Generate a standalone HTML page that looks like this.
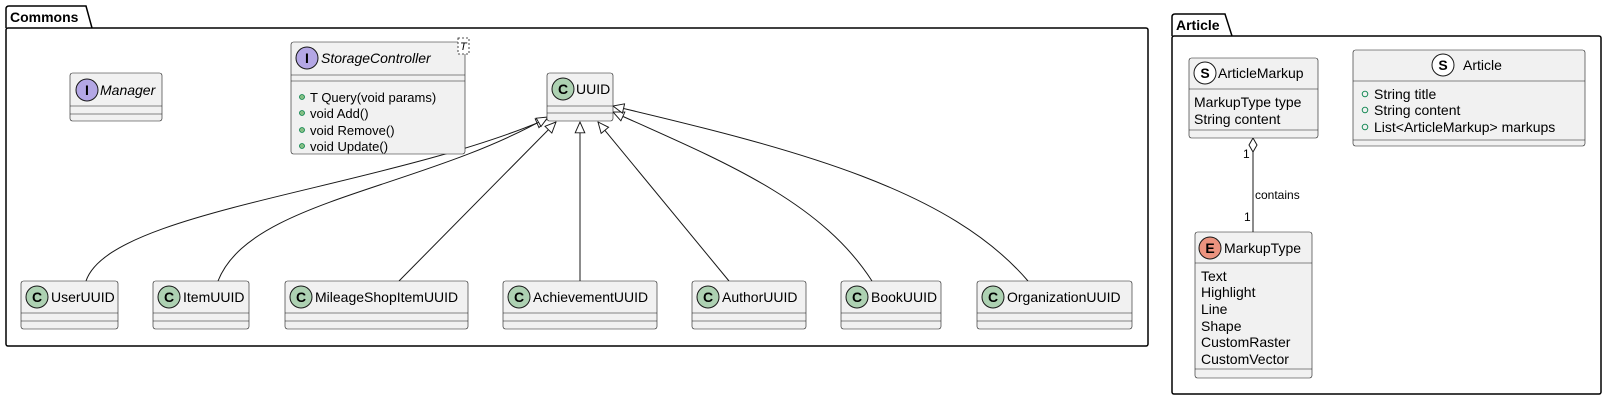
<!DOCTYPE html>
<html><head><meta charset="utf-8"><style>
html,body{margin:0;padding:0;background:#fff;}
svg{display:block;}
text{font-family:"Liberation Sans","DejaVu Sans",sans-serif;fill:#000;}
</style></head><body>
<svg width="1606" height="400" viewBox="0 0 1606 400" xmlns="http://www.w3.org/2000/svg">
<defs>
<marker id="tri" viewBox="0 0 20 20" refX="19" refY="10" markerWidth="12" markerHeight="12" markerUnits="userSpaceOnUse" orient="auto">
<path d="M1,2 L19,10 L1,18 Z" fill="#fff" stroke="#181818" stroke-width="1.6"/>
</marker>
</defs>
<!-- Commons package -->
<path d="M6,28 L6,9 Q6,6 9,6 L86,6 L92,28" fill="none" stroke="#000" stroke-width="1.5"/>
<rect x="6" y="28" width="1142" height="318" rx="2" fill="none" stroke="#000" stroke-width="1.5"/>
<text x="10" y="22" font-size="14" font-weight="bold">Commons</text>
<!-- Article package -->
<path d="M1172,36 L1172,17 Q1172,14 1175,14 L1225,14 L1232,36" fill="none" stroke="#000" stroke-width="1.5"/>
<rect x="1172" y="36" width="429" height="358" rx="2" fill="none" stroke="#000" stroke-width="1.5"/>
<text x="1176" y="30" font-size="14" font-weight="bold">Article</text>

<g stroke="#181818" stroke-width="1" fill="none">
<path d="M86,281 C110,210 380,190 547,119" marker-end="url(#tri)"/>
<path d="M218,281 C250,200 420,190 548,117" marker-end="url(#tri)"/>
<path d="M399,281 L556,122" marker-end="url(#tri)"/>
<path d="M580,281 L580,122" marker-end="url(#tri)"/>
<path d="M729,281 L598,122" marker-end="url(#tri)"/>
<path d="M872,281 C820,200 720,160 613,112" marker-end="url(#tri)"/>
<path d="M1028,281 C950,190 800,150 613,106" marker-end="url(#tri)"/>
<path d="M1253,152 L1253,232"/>
</g>
<path d="M1253,138 L1257,145 L1253,152 L1249,145 Z" fill="#fff" stroke="#181818"/>
<text x="1243" y="158" font-size="12">1</text>
<text x="1255" y="199" font-size="12">contains</text>
<text x="1244" y="221" font-size="12">1</text>

<g font-size="14">
<!-- Manager -->
<rect x="70" y="73" width="92" height="48" rx="2.5" fill="#f1f1f1" stroke="#181818" stroke-width="0.6"/>
<line x1="70" y1="106" x2="162" y2="106" stroke="#181818" stroke-width="0.6"/>
<line x1="70" y1="114" x2="162" y2="114" stroke="#181818" stroke-width="0.6"/>
<circle cx="87" cy="90" r="11" fill="#B4A7E5" stroke="#181818"/>
<text x="87" y="95" font-size="14" font-weight="bold" text-anchor="middle">I</text>
<text x="100" y="95" font-style="italic">Manager</text>

<!-- StorageController -->
<rect x="291" y="42" width="174" height="112" rx="2.5" fill="#f1f1f1" stroke="#181818" stroke-width="0.6"/>
<line x1="291" y1="75" x2="465" y2="75" stroke="#181818" stroke-width="0.6"/>
<line x1="291" y1="81" x2="465" y2="81" stroke="#181818" stroke-width="0.6"/>
<circle cx="307" cy="58" r="11" fill="#B4A7E5" stroke="#181818"/>
<text x="307" y="63" font-weight="bold" text-anchor="middle">I</text>
<text x="321" y="63" font-style="italic">StorageController</text>
<rect x="458" y="38" width="11" height="16" fill="#fff" stroke="#181818" stroke-width="0.8" stroke-dasharray="2,2"/>
<text x="460" y="50" font-size="11" font-style="italic">T</text>
<g font-size="13">
<circle cx="302" cy="97" r="2.5" fill="#84BE84" stroke="#038048" stroke-width="0.8"/><text x="310" y="102">T Query(void params)</text>
<circle cx="302" cy="113" r="2.5" fill="#84BE84" stroke="#038048" stroke-width="0.8"/><text x="310" y="118">void Add()</text>
<circle cx="302" cy="130" r="2.5" fill="#84BE84" stroke="#038048" stroke-width="0.8"/><text x="310" y="135">void Remove()</text>
<circle cx="302" cy="146" r="2.5" fill="#84BE84" stroke="#038048" stroke-width="0.8"/><text x="310" y="151">void Update()</text>
</g>

<!-- UUID and children -->
<g id="cls">
<rect x="547" y="73" width="66" height="48" rx="2.5" fill="#f1f1f1" stroke="#181818" stroke-width="0.6"/>
<line x1="547" y1="106" x2="613" y2="106" stroke="#181818" stroke-width="0.6"/>
<line x1="547" y1="113" x2="613" y2="113" stroke="#181818" stroke-width="0.6"/>
<circle cx="563" cy="89" r="11" fill="#ADD1B2" stroke="#181818"/>
<text x="563" y="94" font-weight="bold" text-anchor="middle">C</text>
<text x="576" y="94">UUID</text>
</g>
</g>

<g font-size="14">
<!-- children: x, w, name -->
<g>
<rect x="21" y="281" width="97" height="48" rx="2.5" fill="#f1f1f1" stroke="#181818" stroke-width="0.6"/>
<line x1="21" y1="313" x2="118" y2="313" stroke="#181818" stroke-width="0.6"/><line x1="21" y1="321" x2="118" y2="321" stroke="#181818" stroke-width="0.6"/>
<circle cx="37" cy="297" r="11" fill="#ADD1B2" stroke="#181818"/><text x="37" y="302" font-weight="bold" text-anchor="middle">C</text>
<text x="51" y="302">UserUUID</text>
</g>
<g>
<rect x="153" y="281" width="96" height="48" rx="2.5" fill="#f1f1f1" stroke="#181818" stroke-width="0.6"/>
<line x1="153" y1="313" x2="249" y2="313" stroke="#181818" stroke-width="0.6"/><line x1="153" y1="321" x2="249" y2="321" stroke="#181818" stroke-width="0.6"/>
<circle cx="169" cy="297" r="11" fill="#ADD1B2" stroke="#181818"/><text x="169" y="302" font-weight="bold" text-anchor="middle">C</text>
<text x="183" y="302">ItemUUID</text>
</g>
<g>
<rect x="285" y="281" width="183" height="48" rx="2.5" fill="#f1f1f1" stroke="#181818" stroke-width="0.6"/>
<line x1="285" y1="313" x2="468" y2="313" stroke="#181818" stroke-width="0.6"/><line x1="285" y1="321" x2="468" y2="321" stroke="#181818" stroke-width="0.6"/>
<circle cx="301" cy="297" r="11" fill="#ADD1B2" stroke="#181818"/><text x="301" y="302" font-weight="bold" text-anchor="middle">C</text>
<text x="315" y="302">MileageShopItemUUID</text>
</g>
<g>
<rect x="503" y="281" width="154" height="48" rx="2.5" fill="#f1f1f1" stroke="#181818" stroke-width="0.6"/>
<line x1="503" y1="313" x2="657" y2="313" stroke="#181818" stroke-width="0.6"/><line x1="503" y1="321" x2="657" y2="321" stroke="#181818" stroke-width="0.6"/>
<circle cx="519" cy="297" r="11" fill="#ADD1B2" stroke="#181818"/><text x="519" y="302" font-weight="bold" text-anchor="middle">C</text>
<text x="533" y="302">AchievementUUID</text>
</g>
<g>
<rect x="692" y="281" width="114" height="48" rx="2.5" fill="#f1f1f1" stroke="#181818" stroke-width="0.6"/>
<line x1="692" y1="313" x2="806" y2="313" stroke="#181818" stroke-width="0.6"/><line x1="692" y1="321" x2="806" y2="321" stroke="#181818" stroke-width="0.6"/>
<circle cx="708" cy="297" r="11" fill="#ADD1B2" stroke="#181818"/><text x="708" y="302" font-weight="bold" text-anchor="middle">C</text>
<text x="722" y="302">AuthorUUID</text>
</g>
<g>
<rect x="841" y="281" width="100" height="48" rx="2.5" fill="#f1f1f1" stroke="#181818" stroke-width="0.6"/>
<line x1="841" y1="313" x2="941" y2="313" stroke="#181818" stroke-width="0.6"/><line x1="841" y1="321" x2="941" y2="321" stroke="#181818" stroke-width="0.6"/>
<circle cx="857" cy="297" r="11" fill="#ADD1B2" stroke="#181818"/><text x="857" y="302" font-weight="bold" text-anchor="middle">C</text>
<text x="871" y="302">BookUUID</text>
</g>
<g>
<rect x="977" y="281" width="155" height="48" rx="2.5" fill="#f1f1f1" stroke="#181818" stroke-width="0.6"/>
<line x1="977" y1="313" x2="1132" y2="313" stroke="#181818" stroke-width="0.6"/><line x1="977" y1="321" x2="1132" y2="321" stroke="#181818" stroke-width="0.6"/>
<circle cx="993" cy="297" r="11" fill="#ADD1B2" stroke="#181818"/><text x="993" y="302" font-weight="bold" text-anchor="middle">C</text>
<text x="1007" y="302">OrganizationUUID</text>
</g>

<!-- ArticleMarkup -->
<rect x="1189" y="58" width="129" height="80" rx="2.5" fill="#f1f1f1" stroke="#181818" stroke-width="0.6"/>
<line x1="1189" y1="89" x2="1318" y2="89" stroke="#181818" stroke-width="0.6"/>
<line x1="1189" y1="130" x2="1318" y2="130" stroke="#181818" stroke-width="0.6"/>
<circle cx="1205" cy="73" r="11" fill="#fff" stroke="#181818"/><text x="1205" y="78" font-weight="bold" text-anchor="middle">S</text>
<text x="1218" y="78">ArticleMarkup</text>
<text x="1194" y="107">MarkupType type</text>
<text x="1194" y="124">String content</text>

<!-- Article -->
<rect x="1353" y="50" width="232" height="96" rx="2.5" fill="#f1f1f1" stroke="#181818" stroke-width="0.6"/>
<line x1="1353" y1="81" x2="1585" y2="81" stroke="#181818" stroke-width="0.6"/>
<line x1="1353" y1="140" x2="1585" y2="140" stroke="#181818" stroke-width="0.6"/>
<circle cx="1443" cy="65" r="11" fill="#fff" stroke="#181818"/><text x="1443" y="70" font-weight="bold" text-anchor="middle">S</text>
<text x="1463" y="70">Article</text>
<g fill="none" stroke="#038048" stroke-width="0.9">
<circle cx="1365" cy="94" r="2.8"/><circle cx="1365" cy="110" r="2.8"/><circle cx="1365" cy="127" r="2.8"/>
</g>
<text x="1374" y="99">String title</text>
<text x="1374" y="115">String content</text>
<text x="1374" y="132">List&lt;ArticleMarkup&gt; markups</text>

<!-- MarkupType -->
<rect x="1195" y="232" width="117" height="146" rx="2.5" fill="#f1f1f1" stroke="#181818" stroke-width="0.6"/>
<line x1="1195" y1="263" x2="1312" y2="263" stroke="#181818" stroke-width="0.6"/>
<line x1="1195" y1="369" x2="1312" y2="369" stroke="#181818" stroke-width="0.6"/>
<circle cx="1210" cy="248" r="11" fill="#EB937F" stroke="#181818"/><text x="1210" y="253" font-weight="bold" text-anchor="middle">E</text>
<text x="1224" y="253">MarkupType</text>
<text x="1201" y="281">Text</text>
<text x="1201" y="297">Highlight</text>
<text x="1201" y="314">Line</text>
<text x="1201" y="331">Shape</text>
<text x="1201" y="347">CustomRaster</text>
<text x="1201" y="364">CustomVector</text>
</g>
</svg>
</body></html>
